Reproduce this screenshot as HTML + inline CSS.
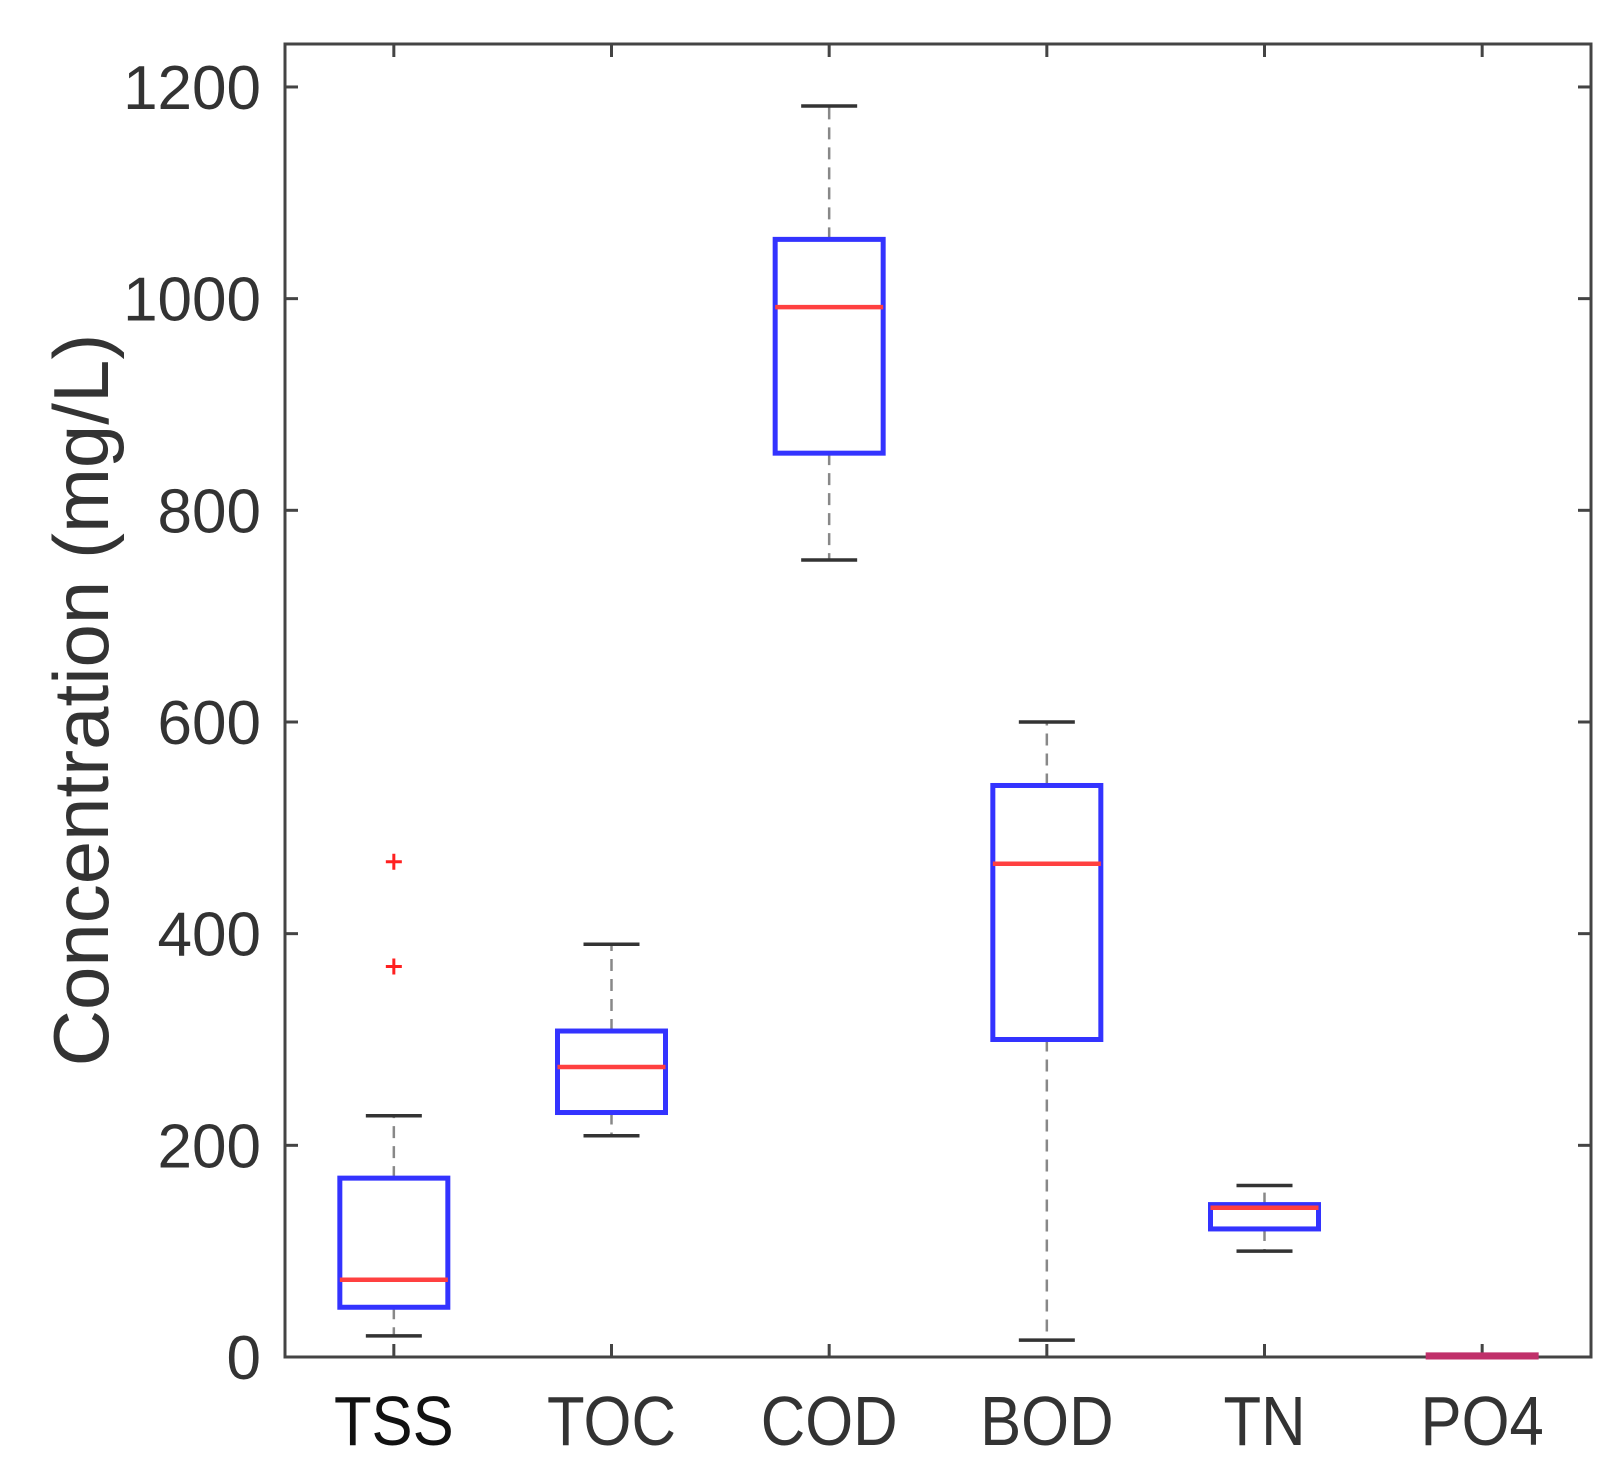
<!DOCTYPE html>
<html><head><meta charset="utf-8"><style>
html,body{margin:0;padding:0;background:#fff;}
svg{display:block;font-family:"Liberation Sans",Arial,sans-serif;}
</style></head><body>
<svg id="chart" width="1624" height="1481" viewBox="0 0 1624 1481" xmlns="http://www.w3.org/2000/svg">
<rect x="0" y="0" width="1624" height="1481" fill="#fff"/>
<g id="g"></g>
</svg>
<script>
const categories = ["TSS","TOC","COD","BOD","TN","PO4"];
const whiskerLow = [20, 209, 753, 16, 100, 0];
const q1 = [47, 231, 854, 300, 121, 0];
const median = [73, 274, 992, 466, 141, 1];
const q3 = [169, 308, 1056, 540, 144, 2];
const whiskerHigh = [228, 390, 1182, 600, 162, 2];
const outlierCat = [0, 0];
const outlierVal = [468, 369];
const yTicks = [0,200,400,600,800,1000,1200];

const L=285,R=1591,T=44,B=1357;
const yMin=0,yMax=1240.6;
function y(v){return B-(v-yMin)/(yMax-yMin)*(B-T);}
function x(i){return L+(i+0.5)*(R-L)/categories.length;}
const NS="http://www.w3.org/2000/svg";
const g=document.getElementById('g');
function el(t,a,p){const e=document.createElementNS(NS,t);for(const k in a)e.setAttribute(k,a[k]);(p||g).appendChild(e);return e;}

const frame=el('rect',{x:L,y:T,width:R-L,height:B-T,fill:'none',stroke:'#444','stroke-width':3});



yTicks.forEach(v=>{
  const t1=el('line',{x1:L,x2:L+13,y1:y(v),y2:y(v),stroke:'#444','stroke-width':3});
  
  
  el('line',{x1:R-13,x2:R,y1:y(v),y2:y(v),stroke:'#444','stroke-width':3});
  const tx=el('text',{x:L-24,y:y(v)+22,'text-anchor':'end','font-size':62,fill:'#333'});
  tx.textContent=v;
  
  
});
categories.forEach((c,i)=>{
  el('line',{x1:x(i),x2:x(i),y1:B,y2:B-13,stroke:'#444','stroke-width':3});
  el('line',{x1:x(i),x2:x(i),y1:T,y2:T+13,stroke:'#444','stroke-width':3});
  const tx=el('text',{x:0,y:0,transform:`translate(${x(i)},1445) scale(0.88,1)`,'text-anchor':'middle','font-size':70,fill:i==0?'#111':'#333'});
  tx.textContent=c;
  
  
});
const yt=el('text',{x:0,y:0,transform:'translate(108,700) rotate(-90)','text-anchor':'middle','font-size':78,fill:'#333'});
yt.textContent='Concentration (mg/L)';



const hw=54, cw=28;
categories.forEach((c,i)=>{
  const cx=x(i);
  const grp=el('g',{});
  
  
  el('line',{x1:cx,x2:cx,y1:y(q3[i]),y2:y(whiskerHigh[i]),stroke:'#888','stroke-width':2.5,'stroke-dasharray':'12,8'},grp);
  el('line',{x1:cx,x2:cx,y1:y(q1[i]),y2:y(whiskerLow[i]),stroke:'#888','stroke-width':2.5,'stroke-dasharray':'12,8'},grp);
  if(i<5){
    el('line',{x1:cx-cw,x2:cx+cw,y1:y(whiskerHigh[i]),y2:y(whiskerHigh[i]),stroke:'#333','stroke-width':3.5},grp);
    el('line',{x1:cx-cw,x2:cx+cw,y1:y(whiskerLow[i]),y2:y(whiskerLow[i]),stroke:'#333','stroke-width':3.5},grp);
  }
  el('rect',{x:cx-hw,y:y(q3[i]),width:2*hw,height:Math.max(1,y(q1[i])-y(q3[i])),fill:'none',stroke:i==5?'#c0306a':'#3333ff','stroke-width':5},grp);
  el('line',{x1:cx-hw,x2:cx+hw,y1:y(median[i]),y2:y(median[i]),stroke:i==5?'#c0306a':'#ff4040','stroke-width':4.5},grp);
});
outlierVal.forEach((v,k)=>{
  const cx=x(outlierCat[k]),cy=y(v);
  const o=el('path',{d:`M${cx-8},${cy}H${cx+8}M${cx},${cy-8}V${cy+8}`,stroke:'#ff2020','stroke-width':3});
  
  
});
</script>
</body></html>
